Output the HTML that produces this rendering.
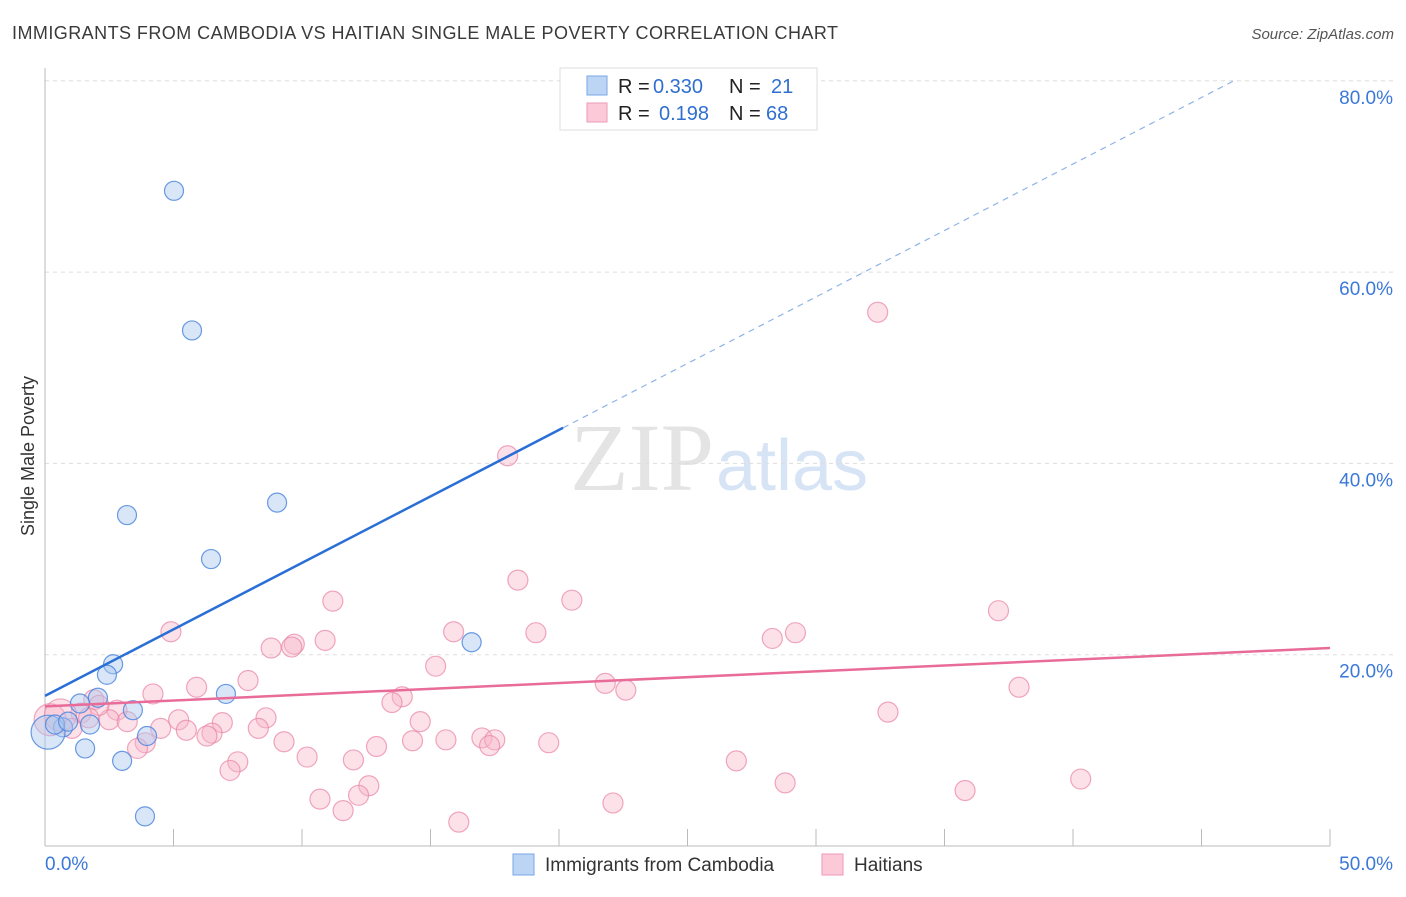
<!DOCTYPE html>
<html><head><meta charset="utf-8"><style>
body{margin:0;background:#fff;font-family:"Liberation Sans",sans-serif}
</style></head><body>
<svg id="chart" width="1406" height="892" xmlns="http://www.w3.org/2000/svg">
<text x="12" y="39" font-size="18" fill="#3a3a3a" textLength="826">IMMIGRANTS FROM CAMBODIA VS HAITIAN SINGLE MALE POVERTY CORRELATION CHART</text>
<text x="1394" y="39" font-size="15" fill="#555" text-anchor="end" font-style="italic">Source: ZipAtlas.com</text>
<text x="714" y="490" font-size="96" fill="#e4e4e4" text-anchor="end" font-family="Liberation Serif">ZIP</text>
<text x="716" y="490" font-size="72" fill="#d6e4f5">atlas</text>
<g id="grid"></g>
<g id="axes"></g>
<g id="marks"></g>
<text transform="translate(34,456) rotate(-90)" font-size="18" fill="#333" text-anchor="middle">Single Male Poverty</text>
<g>
<rect x="560" y="68" width="257" height="62" fill="#fff" stroke="#ddd"/>
<rect x="587" y="76" width="20" height="19" fill="#bcd5f5" stroke="#7aa6e6"/>
<rect x="587" y="103" width="20" height="19" fill="#fbc9d8" stroke="#ee9ab5"/>
<text x="618" y="93" font-size="20" fill="#222">R =</text>
<text x="653" y="93" font-size="20" fill="#2f6fd0">0.330</text>
<text x="729" y="93" font-size="20" fill="#222">N =</text>
<text x="771" y="93" font-size="20" fill="#2f6fd0">21</text>
<text x="618" y="120" font-size="20" fill="#222">R =</text>
<text x="659" y="120" font-size="20" fill="#2f6fd0">0.198</text>
<text x="729" y="120" font-size="20" fill="#222">N =</text>
<text x="766" y="120" font-size="20" fill="#2f6fd0">68</text>
</g>
<g>
<rect x="513" y="854" width="21" height="21" fill="#bcd5f5" stroke="#7aa6e6"/>
<text x="545" y="871" font-size="19" fill="#333">Immigrants from Cambodia</text>
<rect x="822" y="854" width="21" height="21" fill="#fbc9d8" stroke="#ee9ab5"/>
<text x="854" y="871" font-size="19" fill="#333">Haitians</text>
</g>
</svg>
<script>
const yTicks=[20,40,60,80];
const yTickLabels=["20.0%","40.0%","60.0%","80.0%"];
const xTickLabels=["0.0%","50.0%"];
const blueX=[5.02,5.72,3.19,9.03,6.46,2.65,2.41,2.06,1.36,3.42,0.70,1.75,0.12,3.97,1.56,3.0,7.04,16.6,3.89,0.39,0.9];
const blueY=[68.5,53.9,34.6,35.9,30.0,19.0,17.9,15.5,14.9,14.2,12.4,12.7,11.9,11.5,10.2,8.9,15.9,21.3,3.1,12.7,13.0];
const pinkX=[32.4,18.0,18.4,20.5,11.2,37.1,29.2,28.3,19.1,15.9,4.9,10.9,9.7,9.6,8.8,15.2,21.8,22.6,37.9,7.9,5.9,4.2,13.9,13.5,32.8,2.8,1.9,1.4,2.5,3.2,5.2,6.9,8.6,14.6,4.5,5.5,6.5,6.3,8.3,9.3,14.3,15.6,17.0,17.5,17.3,19.6,12.9,3.9,3.6,7.5,7.2,10.2,12.0,26.9,40.3,12.6,12.2,28.8,10.7,11.6,22.1,35.8,16.1,0.2,0.6,1.05,2.1,1.7];
const pinkY=[55.8,40.8,27.8,25.7,25.6,24.6,22.3,21.7,22.3,22.4,22.4,21.5,21.1,20.8,20.7,18.8,17.0,16.3,16.6,17.3,16.6,15.9,15.6,15.0,14.0,14.2,15.3,13.9,13.2,13.0,13.2,12.9,13.4,13.0,12.3,12.1,11.8,11.5,12.3,10.9,11.0,11.1,11.3,11.1,10.5,10.8,10.4,10.8,10.2,8.8,7.9,9.3,9.0,8.9,7.0,6.3,5.3,6.6,4.9,3.7,4.5,5.8,2.5,13.2,13.7,12.3,14.7,13.4];
const blueTrend=[15.7,1.39];
const pinkTrend=[14.6,0.122];
const NS="http://www.w3.org/2000/svg";
const X0=45,X1=1330,Y0=846,PY=191.3/20;
const sx=v=>X0+(v/50)*(X1-X0);
const sy=v=>Y0-v*PY;
function mk(t,a,p){const e=document.createElementNS(NS,t);for(const k in a)e.setAttribute(k,a[k]);p.appendChild(e);return e;}
const grid=document.getElementById('grid'),axes=document.getElementById('axes'),marks=document.getElementById('marks');
yTicks.forEach((t,i)=>{
 const l=mk('line',{x1:X0,x2:1394,y1:sy(t),y2:sy(t),stroke:'#ddd','stroke-dasharray':'4,4'},grid);
 
 
 const tx=mk('text',{x:1393,y:sy(t)+23,'font-size':19,fill:'#3b78d8','text-anchor':'end'},axes);
 tx.textContent=yTickLabels[i];
 
 
});
const ax=mk('line',{x1:X0,x2:X0,y1:68,y2:846,stroke:'#bbb'},axes);


const bx=mk('line',{x1:X0,x2:X1,y1:846,y2:846,stroke:'#bbb'},axes);


for(let i=0;i<=10;i++){
 const t=mk('line',{x1:sx(i*5),x2:sx(i*5),y1:829,y2:846,stroke:'#bbb'},axes);
 
 
}
[[0,'start',45],[50,'end',1393]].forEach((d,i)=>{
 const t=mk('text',{x:d[2],y:870,'font-size':19,fill:'#3b78d8','text-anchor':d[1]},axes);
 t.textContent=xTickLabels[i];
 
 
});
pinkX.forEach((x,i)=>{
 const r=(i>=63&&i<=64)?16:10;
 const c=mk('circle',{cx:sx(x),cy:sy(pinkY[i]),r:r,fill:'rgba(248,180,200,0.4)',stroke:'rgba(234,130,165,0.7)','stroke-width':1.2},marks);
 
 
});
blueX.forEach((x,i)=>{
 const r=(i===12)?17:9.5;
 const c=mk('circle',{cx:sx(x),cy:sy(blueY[i]),r:r,fill:'rgba(170,200,240,0.45)',stroke:'rgba(70,130,220,0.8)','stroke-width':1.2},marks);
 
 
});
const bl=mk('line',{x1:sx(0),y1:sy(blueTrend[0]),x2:sx(20.16),y2:sy(blueTrend[0]+blueTrend[1]*20.16),stroke:'#2a6fd6','stroke-width':2.5},marks);


const xe=(80-blueTrend[0])/blueTrend[1];
const bd=mk('line',{x1:sx(20.16),y1:sy(blueTrend[0]+blueTrend[1]*20.16),x2:sx(xe),y2:sy(80),stroke:'#8fb3e8','stroke-width':1.2,'stroke-dasharray':'6,5'},marks);


const pl=mk('line',{x1:sx(0),y1:sy(pinkTrend[0]),x2:sx(50),y2:sy(pinkTrend[0]+pinkTrend[1]*50),stroke:'#e86b98','stroke-width':2.5},marks);


</script>
</body></html>
